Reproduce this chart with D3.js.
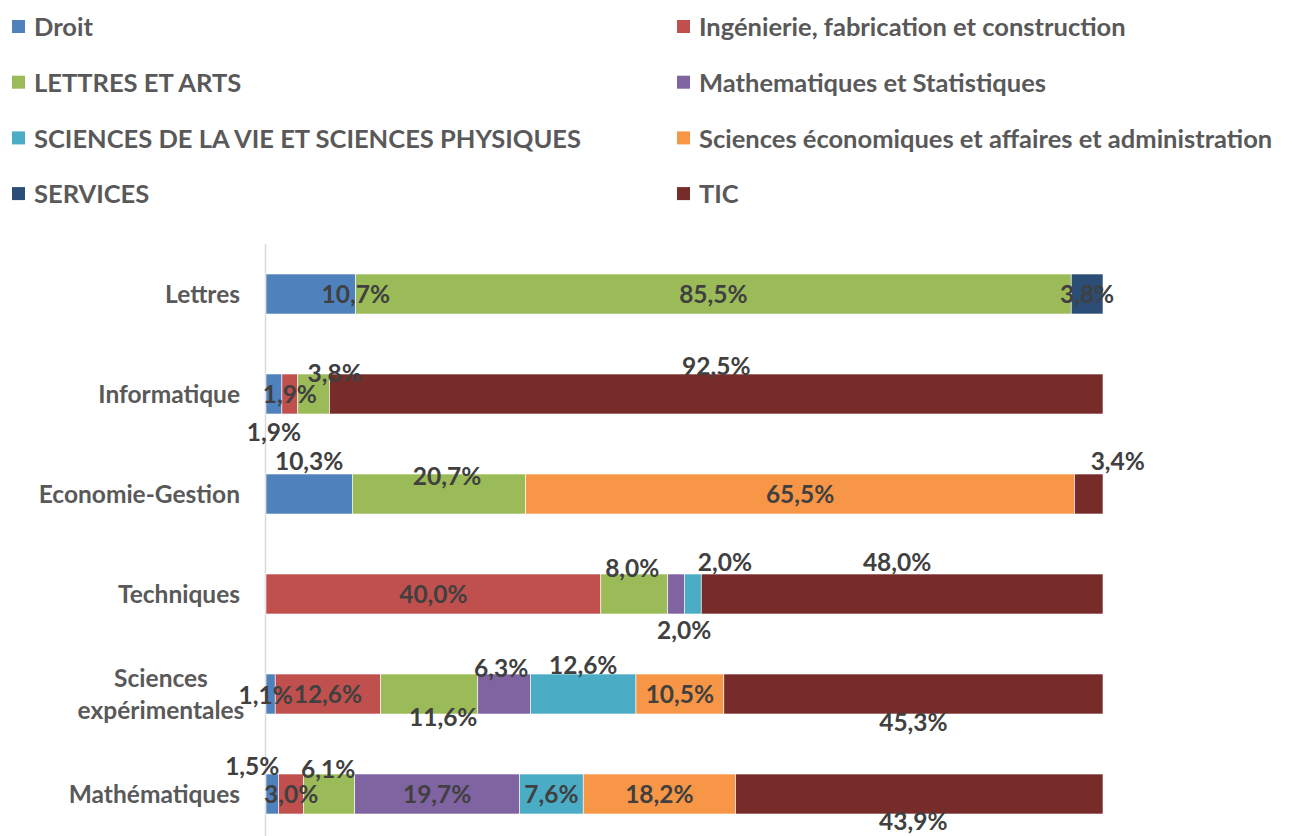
<!DOCTYPE html>
<html><head><meta charset="utf-8">
<script src="https://cdn.jsdelivr.net/npm/d3@7"></script>
<style>body{margin:0;background:#fff}svg{display:block}</style>
</head><body>
<svg id="c" width="1294" height="836"></svg>
<script>
const categories = ["Lettres","Informatique","Economie-Gestion","Techniques","Sciences expérimentales","Mathématiques"];
const seriesNames = ["Droit","Ingénierie, fabrication et construction","LETTRES ET ARTS","Mathematiques et Statistiques","SCIENCES DE LA VIE ET SCIENCES PHYSIQUES","Sciences économiques et affaires et administration","SERVICES","TIC"];
const seriesColors = ["#4F81BD","#C0504D","#9BBB59","#8064A2","#4BACC6","#F79646","#2C4D75","#772C2A"];
const droit       = [10.7, 1.9, 10.3, 0,    1.1,  1.5];
const ingenierie  = [0,    1.9, 0,    40.0, 12.6, 3.0];
const lettresArts = [85.5, 3.8, 20.7, 8.0,  11.6, 6.1];
const maths       = [0,    0,   0,    2.0,  6.3,  19.7];
const sciencesVie = [0,    0,   0,    2.0,  12.6, 7.6];
const sciencesEco = [0,    0,   65.5, 0,    10.5, 18.2];
const services    = [3.8,  0,   0,    0,    0,    0];
const tic         = [0,    92.5,3.4,  48.0, 45.3, 43.9];
const seriesValues = [droit, ingenierie, lettresArts, maths, sciencesVie, sciencesEco, services, tic];

// manual data-label nudges (layout only): [categoryIndex][seriesIndex] -> [dx, dy]
const labelNudge = {
  0: {0:[45,0]},
  1: {0:[0,38], 2:[21,-21], 7:[0,-28]},
  2: {0:[0,-33], 2:[8,-18], 7:[29,-33]},
  3: {2:[-2,-26], 3:[8,36], 4:[32,-32], 7:[-5,-32]},
  4: {0:[-5,1], 2:[14,23], 3:[-3,-26], 4:[0,-29], 7:[0,28]},
  5: {0:[-20,-28], 2:[-1,-25], 7:[-6,27]}
};

const svg = d3.select("#c");
const FONT = "Lato, 'Open Sans', sans-serif";

// legend
const leg = svg.append("g");
seriesNames.forEach((name, i) => {
  const col = i % 2, row = Math.floor(i / 2);
  const lx = col === 0 ? 12 : 677;
  const ly = 27 + row * 55.7;
  leg.append("rect").attr("x", lx).attr("y", ly - 7).attr("width", 13).attr("height", 13).attr("fill", seriesColors[i]);
  leg.append("text").attr("x", lx + 22).attr("y", ly).attr("dy", "0.36em")
    .attr("font-family", FONT).attr("font-weight", 700).attr("font-size", 25.5)
    .attr("fill", "#595959").text(name);
});

const x = d3.scaleLinear().domain([0, 100]).range([266, 1103]);
const y = d3.scaleBand().domain(categories).range([244, 844]).paddingInner(0.6).paddingOuter(0.3);

// axis line
svg.append("line").attr("x1", 265.5).attr("x2", 265.5).attr("y1", 244).attr("y2", 836)
  .attr("stroke", "#d9d9d9").attr("stroke-width", 1.5);

// stacking (normalized to 100%)
const rows = categories.map((c, ci) => {
  const total = d3.sum(seriesValues, s => s[ci]);
  let acc = 0;
  return seriesValues.map((s, si) => {
    const v = s[ci];
    const seg = {ci, si, v, x0: acc / total * 100, x1: (acc + v) / total * 100};
    acc += v;
    return seg;
  });
});
const segs = rows.flat().filter(d => d.v > 0);

svg.append("g").selectAll("rect").data(segs).join("rect")
  .attr("x", d => x(d.x0)).attr("width", d => x(d.x1) - x(d.x0))
  .attr("y", d => y(categories[d.ci])).attr("height", y.bandwidth())
  .attr("fill", d => seriesColors[d.si])
  .attr("stroke", "#fff").attr("stroke-width", 0.6);

// category labels
const yAx = svg.append("g");
categories.forEach(c => {
  const cy = y(c) + y.bandwidth() / 2;
  if (c === "Sciences expérimentales") {
    ["Sciences", "expérimentales"].forEach((t, k) => {
      yAx.append("text").attr("x", 161).attr("y", cy - 16 + k * 32).attr("dy", "0.36em")
        .attr("text-anchor", "middle").attr("font-family", FONT).attr("font-weight", 700)
        .attr("font-size", 24.5).attr("fill", "#595959").text(t);
    });
  } else {
    yAx.append("text").attr("x", 240).attr("y", cy).attr("dy", "0.36em")
      .attr("text-anchor", "end").attr("font-family", FONT).attr("font-weight", 700)
      .attr("font-size", 24.5).attr("fill", "#595959").text(c);
  }
});

// data labels
const fmt = v => v.toFixed(1).replace(".", ",") + "%";
svg.append("g").selectAll("text").data(segs).join("text")
  .attr("x", d => (x(d.x0) + x(d.x1)) / 2 + ((labelNudge[d.ci] || {})[d.si] || [0,0])[0])
  .attr("y", d => y(categories[d.ci]) + y.bandwidth() / 2 + ((labelNudge[d.ci] || {})[d.si] || [0,0])[1])
  .attr("dy", "0.36em").attr("text-anchor", "middle")
  .attr("font-family", FONT).attr("font-weight", 700).attr("font-size", 24.5)
  .attr("fill", "#404040").text(d => fmt(d.v));
</script>
</body></html>
